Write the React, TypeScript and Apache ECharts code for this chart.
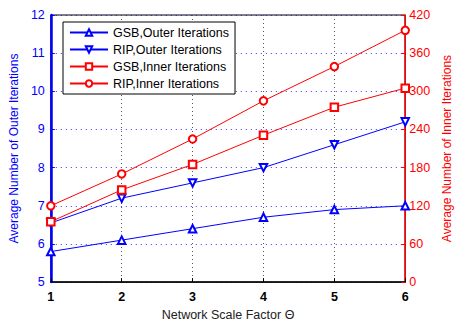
import React, { useEffect, useRef } from "react";
import * as echarts from "echarts";

const categories = ["1", "2", "3", "4", "5", "6"];
const gsbOuter = [5.8, 6.1, 6.4, 6.7, 6.9, 7.0];
const ripOuter = [6.55, 7.2, 7.6, 8.0, 8.6, 9.2];
const gsbInner = [95, 145, 185, 231, 275, 305];
const ripInner = [120, 170, 225, 285, 339, 396];
const leftTicks = { min: 5, max: 12, interval: 1 };
const rightTicks = { min: 0, max: 420, interval: 60 };

const FONT = "Liberation Sans";

export default function App() {
  const ref = useRef<HTMLDivElement>(null);
  useEffect(() => {
    if (!ref.current) return;
    const chart = echarts.init(ref.current, undefined, { renderer: "svg" });
    const mk = (name: string, data: number[], color: string, symbol: string, yAxisIndex: number, rotate = 0) => ({
      name,
      type: "line",
      data,
      yAxisIndex,
      symbol,
      symbolSize: 7.5,
      symbolRotate: rotate,
      showAllSymbol: true,
      lineStyle: { color, width: 1 },
      itemStyle: { color, borderColor: color, borderWidth: 1 },
    });
    chart.setOption({
      animation: false,
      textStyle: { fontFamily: FONT },
      grid: {
        left: 48,
        right: 41,
        top: 15,
        bottom: 32,
        show: true,
        borderColor: "#000",
        borderWidth: 1,
        backgroundColor: "#fff",
      },
      legend: {
        left: 63,
        top: 22,
        orient: "vertical",
        backgroundColor: "#fff",
        borderColor: "#000",
        borderWidth: 1,
        borderRadius: 0,
        padding: [4, 6, 4, 6],
        itemGap: 4,
        itemWidth: 38,
        itemHeight: 8,
        textStyle: { fontFamily: FONT, fontSize: 12.5, color: "#000" },
        data: [
          "GSB,Outer Iterations",
          "RIP,Outer Iterations",
          "GSB,Inner Iterations",
          "RIP,Inner Iterations",
        ],
      },
      xAxis: {
        type: "category",
        data: categories,
        boundaryGap: false,
        name: "Network Scale Factor \u0398",
        nameLocation: "middle",
        nameGap: 21,
        nameTextStyle: { fontFamily: FONT, fontSize: 12.5, color: "#222" },
        axisLine: { lineStyle: { color: "#000", width: 1.5 } },
        axisTick: { inside: true, length: 4, lineStyle: { color: "#000" } },
        axisLabel: { color: "#000", fontSize: 12.5, fontWeight: "bold", margin: 8, fontFamily: FONT },
        splitLine: { show: true, lineStyle: { color: "#555", type: [1, 3], width: 1 } },
      },
      yAxis: [
        {
          type: "value",
          ...leftTicks,
          position: "left",
          name: "Average Number of Outer Iterations",
          nameLocation: "middle",
          nameRotate: 90,
          nameGap: 25,
          nameTextStyle: { fontFamily: FONT, fontSize: 12, color: "#0000ff" },
          axisLine: { show: true, lineStyle: { color: "#0000ff", width: 2.5 } },
          axisTick: { show: true, inside: true, length: 4, lineStyle: { color: "#0000ff" } },
          axisLabel: { color: "#0000ff", fontSize: 12.5, margin: 6, fontFamily: FONT },
          splitLine: { show: true, lineStyle: { color: "#0000ff", type: [1, 4], width: 1, opacity: 0.8 } },
        },
        {
          type: "value",
          ...rightTicks,
          position: "right",
          name: "Average Number of Inner Iterations",
          nameLocation: "middle",
          nameRotate: 90,
          nameGap: 35,
          nameTextStyle: { fontFamily: FONT, fontSize: 12, color: "#ff0000" },
          axisLine: { show: true, lineStyle: { color: "#ff0000", width: 1.5 } },
          axisTick: { show: true, inside: true, length: 4, lineStyle: { color: "#ff0000" } },
          axisLabel: { color: "#ff0000", fontSize: 12.5, margin: 4, fontFamily: FONT },
          splitLine: { show: false },
        },
      ],
      series: [
        mk("GSB,Outer Iterations", gsbOuter, "#0000ff", "emptyTriangle", 0),
        mk("RIP,Outer Iterations", ripOuter, "#0000ff", "emptyTriangle", 0, 180),
        mk("GSB,Inner Iterations", gsbInner, "#ff0000", "emptyRect", 1),
        mk("RIP,Inner Iterations", ripInner, "#ff0000", "emptyCircle", 1),
      ],
    });
    return () => chart.dispose();
  }, []);
  return <div ref={ref} style={{ width: 461, height: 326, position: "absolute", left: 0, top: 0 }} />;
}
